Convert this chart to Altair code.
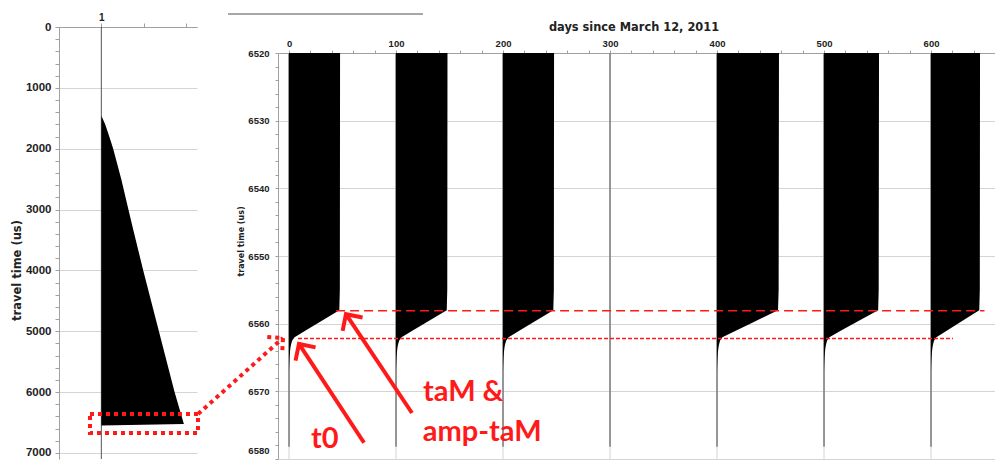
import altair as alt
import pandas as pd

# ---------------- data ----------------
# Left panel: one complete waveform (trace number 1), travel time in us
LEFT_TIME = [1460, 1520, 1600, 1700, 1870, 2000, 2500, 3000, 3350, 4000, 5000, 6000, 6525, 6550]
LEFT_AMP = [0, 0.04, 0.09, 0.14, 0.22, 0.28, 0.47, 0.64, 0.76, 0.99, 1.36, 1.73, 1.95, 0]
LEFT_TRACE = 1
LEFT_TRACE_SPAN = [0, 7100]

# Right panel: zoom on the first arrival, one trace every 100 days
DAYS = [0, 100, 200, 300, 400, 500, 600]
TIME = [6520, 6555, 6558, 6559, 6560, 6561, 6562, 6562.5, 6563, 6563.5, 6564, 6565, 6566, 6567]
AMP_0 = [47.7, 47.5, 47.0, 36.5, 26.0, 15.5, 5.2, 3.0, 2.0, 1.4, 1.0, 0.5, 0.2, 0]
AMP_100 = [48.1, 47.9, 47.4, 36.8, 26.2, 15.6, 5.2, 3.0, 2.0, 1.4, 1.0, 0.5, 0.2, 0]
AMP_200 = [47.7, 47.5, 47.0, 36.5, 26.0, 15.5, 5.2, 3.0, 2.0, 1.4, 1.0, 0.5, 0.2, 0]
AMP_300 = [0, 0, 0, 0, 0, 0, 0, 0, 0, 0, 0, 0, 0, 0]
AMP_400 = [57.9, 57.6, 57.0, 44.0, 31.0, 18.0, 5.0, 2.9, 2.0, 1.4, 1.0, 0.5, 0.2, 0]
AMP_500 = [51.4, 51.1, 50.6, 39.0, 27.5, 16.0, 5.0, 2.9, 2.0, 1.4, 1.0, 0.5, 0.2, 0]
AMP_600 = [45.8, 45.6, 45.1, 35.0, 25.0, 15.0, 5.0, 2.9, 2.0, 1.4, 1.0, 0.5, 0.2, 0]
AMPS = [AMP_0, AMP_100, AMP_200, AMP_300, AMP_400, AMP_500, AMP_600]
TRACE_SPAN = [6520, 6578.2]
GRID_DAYS = [0, 100, 200, 300, 400, 500, 600]

# picked times
TAM_LEVEL = 6558.1
T0_LEVEL = 6562.2

# ---------------- annotations (data coordinates) ----------------
TAM_SPAN = [44, 650]
T0_SPAN = [8.4, 620.5]
ARROW_TAIL_X = [70.1, 114.9]
ARROW_TAIL_Y = [6577.6, 6573.2]
ARROW_TIP_X = [9.3, 53.2]
ARROW_TIP_Y = [6563.0, 6558.6]
ARROW_ANGLE = [326.7, 326.3]
LINK_TAIL = [-85.0, 6573.35]
LINK_TIP = [-5.6, 6562.1]
LINK_ANGLE = 48.2
LABELS = ["t0", "taM &", "amp-taM"]
LABEL_X = [20.6, 125.2, 124.9]
LABEL_Y = [6578.4, 6571.4, 6577.3]
BOX_X = [0.732, 3.283]
BOX_Y = [6360, 6673]

RED = "#ff1a1a"
LABEL_FONT = "Liberation Sans"
TITLE_FONT = "DejaVu Sans"

# ---------------- left panel ----------------
lx = alt.Scale(domain=[0, 3.26], nice=False, zero=False)
ly = alt.Scale(domain=[0, 7100], nice=False, zero=False, reverse=True)
lx_axis = alt.Axis(orient="top", values=[1, 2, 3], labelExpr="datum.value == 1 ? '1' : ''",
                   grid=False, tickSize=4, title=None, labelFontSize=10, labelPadding=1,
                   labelFlush=False, labelOverlap=False)
ly_axis = alt.Axis(orient="left", values=list(range(0, 7001, 200)),
                   labelExpr="datum.value % 1000 === 0 ? format(datum.value, 'd') : ''",
                   gridOpacity={"condition": {"test": "datum.value % 1000 === 0", "value": 1}, "value": 0},
                   gridColor="#d4d4d4", tickSize=4, labelFontSize=11.5, labelPadding=4,
                   labelOverlap=False, title="travel time (us)", titleFontSize=11.5,
                   titleAngle=270, titleBaseline="bottom", titleAlign="center",
                   titleX=-37, titleY=243)


def LX(f):
    return alt.X(f, type="quantitative", scale=lx, axis=lx_axis)


def LY(f):
    return alt.Y(f, type="quantitative", scale=ly, axis=ly_axis)


left_df = pd.DataFrame({"time": LEFT_TIME,
                        "edge": [LEFT_TRACE + a for a in LEFT_AMP],
                        "base": [LEFT_TRACE] * len(LEFT_TIME)})
left_line = alt.Chart(pd.DataFrame({"base": [LEFT_TRACE], "t0": [LEFT_TRACE_SPAN[0]],
                                    "t1": [LEFT_TRACE_SPAN[1]]})).mark_rule(
    color="#555555", strokeWidth=1).encode(x=LX("base"), y=LY("t0"), y2="t1")
left_area = alt.Chart(left_df).mark_area(orient="horizontal", color="black").encode(
    y=LY("time"), x=LX("edge"), x2="base")
box = alt.Chart(pd.DataFrame({"x0": [BOX_X[0]], "x1": [BOX_X[1]], "y0": [BOX_Y[0]],
                              "y1": [BOX_Y[1]]})).mark_rect(
    fillOpacity=0, stroke=RED, strokeWidth=4, strokeDash=[4, 4]).encode(
    x=LX("x0"), x2="x1", y=LY("y0"), y2="y1")
marker = alt.Chart(pd.DataFrame({"a": [0]})).mark_rule(color="white", strokeWidth=1).encode(
    x=alt.value(-50), x2=alt.value(-49), y=alt.value(-18))

left = alt.layer(left_line, left_area, box, marker).properties(width=138, height=432)

# ---------------- right panel ----------------
rx = alt.Scale(domain=[-10.3, 659.8], nice=False, zero=False)
ry = alt.Scale(domain=[6520, 6580], range=[26, 432], nice=False, zero=False)
rx_axis = alt.Axis(orient="top", offset=-26, values=list(range(0, 660, 20)),
                   labelExpr="datum.value % 100 === 0 ? format(datum.value, 'd') : ''",
                   grid=False, tickSize=3, labelFontSize=9.5, labelPadding=2,
                   labelFlush=False, labelOverlap=False,
                   title="days since March 12, 2011", titleFontSize=11.4,
                   titleBaseline="middle", titleX=355.5, titleY=-26)
ry_axis = alt.Axis(orient="left", values=list(range(6520, 6581, 2)),
                   labelExpr="datum.value % 10 === 0 ? format(datum.value, 'd') : ''",
                   gridOpacity={"condition": {"test": "datum.value % 10 === 0", "value": 1}, "value": 0},
                   labelOffset={"condition": {"test": "datum.value === 6580", "value": -9}, "value": 0},
                   gridColor="#d4d4d4", tickSize=3, labelFontSize=9.5, labelPadding=6,
                   labelOverlap=False, title="travel time (us)", titleFontSize=8,
                   titleAngle=270, titleBaseline="bottom", titleAlign="center",
                   titleX=-33, titleY=214)


def RX(f):
    return alt.X(f, type="quantitative", scale=rx, axis=rx_axis)


def RY(f):
    return alt.Y(f, type="quantitative", scale=ry, axis=ry_axis)


rows = []
for d, amps in zip(DAYS, AMPS):
    for t, a in zip(TIME, amps):
        rows.append({"day": d, "time": t, "edge": d + a})
waves = pd.DataFrame(rows)

grid = alt.Chart(pd.DataFrame({"day": GRID_DAYS, "t0": 6520, "t1": 6580})).mark_rule(
    color="#d4d4d4", strokeWidth=1).encode(x=RX("day"), y=RY("t0"), y2="t1")
traces = alt.Chart(pd.DataFrame({"day": DAYS, "t0": TRACE_SPAN[0], "t1": TRACE_SPAN[1]})).mark_rule(
    color="#7a7a7a", strokeWidth=1.5).encode(x=RX("day"), y=RY("t0"), y2="t1")
fills = alt.Chart(waves).mark_area(orient="horizontal", color="black").encode(
    y=RY("time"), x=RX("edge"), x2="day", detail="day:N")

tam = alt.Chart(pd.DataFrame({"a": [TAM_SPAN[0]], "b": [TAM_SPAN[1]], "y": [TAM_LEVEL]})).mark_rule(
    color=RED, strokeWidth=1.5, strokeDash=[9, 5]).encode(x=RX("a"), x2="b", y=RY("y"))
t0 = alt.Chart(pd.DataFrame({"a": [T0_SPAN[0]], "b": [T0_SPAN[1]], "y": [T0_LEVEL]})).mark_rule(
    color=RED, strokeWidth=1.5, strokeDash=[4, 2]).encode(x=RX("a"), x2="b", y=RY("y"))

arrows_df = pd.DataFrame({"x": ARROW_TAIL_X, "y": ARROW_TAIL_Y, "x2": ARROW_TIP_X,
                          "y2": ARROW_TIP_Y, "ang": ARROW_ANGLE})
shafts = alt.Chart(arrows_df).mark_rule(color=RED, strokeWidth=4).encode(
    x=RX("x"), y=RY("y"), x2="x2", y2="y2")
heads = alt.Chart(arrows_df).mark_point(
    shape="M-1,1L0,0L1,1", filled=False, size=576, strokeWidth=4, color=RED, opacity=1,
    strokeJoin="miter").encode(x=RX("x2"), y=RY("y2"), angle=alt.Angle("ang:Q", scale=None))

link_df = pd.DataFrame({"x": [LINK_TAIL[0]], "y": [LINK_TAIL[1]], "x2": [LINK_TIP[0]],
                        "y2": [LINK_TIP[1]], "ang": [LINK_ANGLE]})
link = alt.Chart(link_df).mark_rule(color=RED, strokeWidth=4, strokeDash=[4, 4]).encode(
    x=RX("x"), y=RY("y"), x2="x2", y2="y2")
link_head = alt.Chart(link_df).mark_point(
    shape="M-1,1L0,0L1,1", filled=False, size=500, strokeWidth=4, color=RED, opacity=1,
    strokeDash=[4, 4]).encode(x=RX("x2"), y=RY("y2"), angle=alt.Angle("ang:Q", scale=None))

labels = alt.Chart(pd.DataFrame({"x": LABEL_X, "y": LABEL_Y, "label": LABELS})).mark_text(
    align="left", baseline="alphabetic", font="Lato", fontWeight="bold", fontSize=29,
    color=RED).encode(x=RX("x"), y=RY("y"), text="label:N")

scribble = alt.Chart(pd.DataFrame({"a": [0]})).mark_rule(color="#8a8a8a", strokeWidth=1.5).encode(
    x=alt.value(-50), x2=alt.value(145), y=alt.value(-13))

right = alt.layer(grid, traces, fills, tam, t0, shafts, heads, link, link_head, labels,
                  scribble).properties(width=717, height=432)

chart = alt.hconcat(left, right, spacing=81, bounds="flush").properties(
    padding=0
).configure_view(stroke=None).configure_axis(
    labelFont=LABEL_FONT, labelFontWeight="bold", labelColor="#222222",
    domainColor="#a0a0a0", tickColor="#a0a0a0",
    titleFont=TITLE_FONT, titleFontWeight="bold", titleColor="#222222"
)

chart.save("out.html", embed_options={"renderer": "svg", "actions": False})
